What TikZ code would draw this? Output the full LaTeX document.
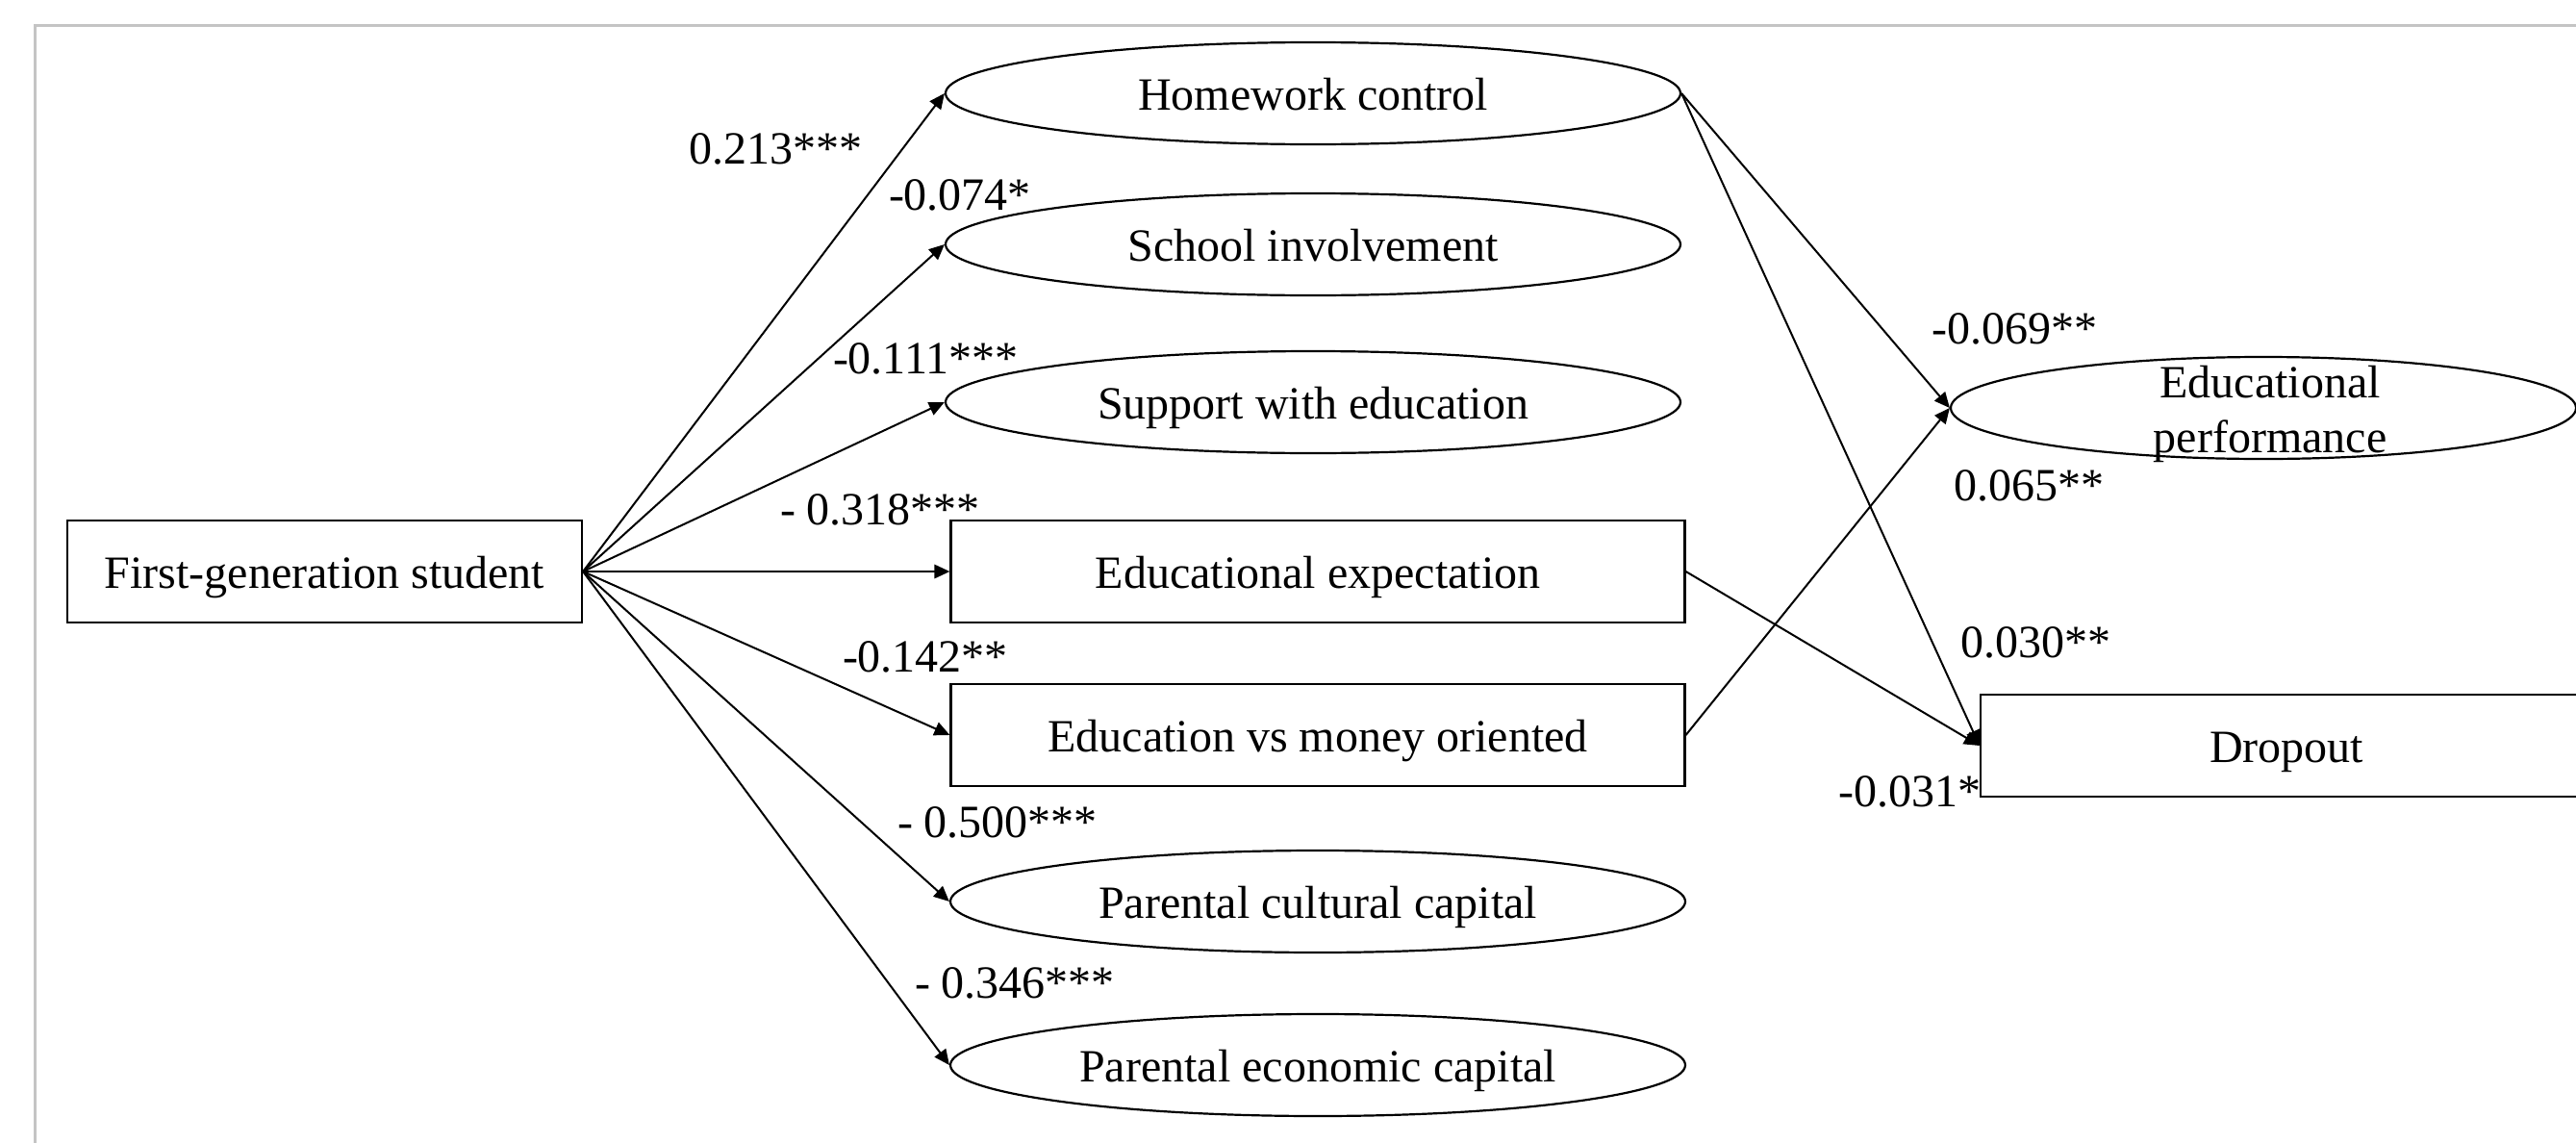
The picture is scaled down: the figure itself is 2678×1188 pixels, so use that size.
\documentclass[tikz,border=0pt]{standalone}
\usepackage{fontspec}
\setmainfont{Liberation Serif}
\usetikzlibrary{shapes.geometric,arrows.meta}

\definecolor{framegray}{RGB}{196,196,196}
\tikzset{every picture/.style={line width=0.5pt}}
\tikzset{
  varfont/.style={font=\fontsize{12}{14.25}\selectfont},
  obsbox/.style={draw, rectangle, varfont, inner sep=0pt, minimum height=26.5pt, text height=8.8pt, text depth=0pt, line width=0.55pt},
  latoval/.style={draw, ellipse, varfont, inner sep=0pt, minimum height=26.5pt, minimum width=191pt, text height=8.8pt, text depth=0pt, line width=0.55pt},
  coef/.style={varfont, inner sep=0pt, anchor=base west},
  effect/.style={-{Triangle[length=4pt,width=3.6pt]}},
}

\begin{document}
\begin{tikzpicture}[x=0.25pt,y=0.25pt,yscale=-1,xscale=1]
\useasboundingbox (0,0) rectangle (2678,1188);
\clip (0,0) rectangle (2678,1188);

%Frame
\draw [color=framegray, line width=0.75pt] (36,1200) -- (36,26) -- (2700,26) ;

%Shape: Rectangle
\draw (337.5,594) node (fgs) [obsbox, minimum width=133.75pt] {First-generation student};
%Shape: Ellipse
\draw (1365,97) node (homework) [latoval] {Homework control};
%Shape: Ellipse
\draw (1365,254) node (school) [latoval] {School involvement};
%Shape: Ellipse
\draw (1365,418) node (support) [latoval] {Support with education};
%Shape: Rectangle
\draw (1370,594) node (expect) [obsbox, minimum width=190.75pt] {Educational expectation};
%Shape: Rectangle
\draw (1370,764) node (money) [obsbox, minimum width=190.75pt] {Education vs money oriented};
%Shape: Ellipse
\draw (1370,937) node (cultural) [latoval] {Parental cultural capital};
%Shape: Ellipse
\draw (1370,1107) node (economic) [latoval] {Parental economic capital};
%Shape: Ellipse
\draw (2353,424) node (perf) [latoval, minimum width=162.5pt] {};
\draw (2360,430) node (perftext) [varfont, align=center, inner sep=0pt] {Educational\\performance};
%Shape: Rectangle
\draw (2377,775) node (dropout) [obsbox, minimum width=159pt] {Dropout};

%Straight Lines
\draw [effect] (fgs.east) -- (homework.west) ;
\draw [effect] (fgs.east) -- (school.west) ;
\draw [effect] (fgs.east) -- (support.west) ;
\draw [effect] (fgs.east) -- (expect.west) ;
\draw [effect] (fgs.east) -- (money.west) ;
\draw [effect] (fgs.east) -- (cultural.west) ;
\draw [effect] (fgs.east) -- (economic.west) ;
%Straight Lines
\draw [effect] (homework.east) -- (perf.west) ;
\draw [effect] (homework.east) -- (dropout.west) ;
\draw [effect] (expect.east) -- (dropout.west) ;
\draw [effect] (money.east) -- (perf.west) ;

% Text Node
\draw (715,170) node (c1) [coef] {0.213***};
% Text Node
\draw (923,218) node (c2) [coef] {-0.074*};
% Text Node
\draw (865,388) node (c3) [coef] {-0.111***};
% Text Node
\draw (810,545) node (c4) [coef] {- 0.318***};
% Text Node
\draw (875,698) node (c5) [coef] {-0.142**};
% Text Node
\draw (932,870) node (c6) [coef] {- 0.500***};
% Text Node
\draw (950,1037) node (c7) [coef] {- 0.346***};
% Text Node
\draw (2007,357) node (c8) [coef] {-0.069**};
% Text Node
\draw (2030,520) node (c9) [coef] {0.065**};
% Text Node
\draw (2037,683) node (c10) [coef] {0.030**};
% Text Node
\draw (1910,838) node (c11) [coef] {-0.031*};

\end{tikzpicture}
\end{document}
